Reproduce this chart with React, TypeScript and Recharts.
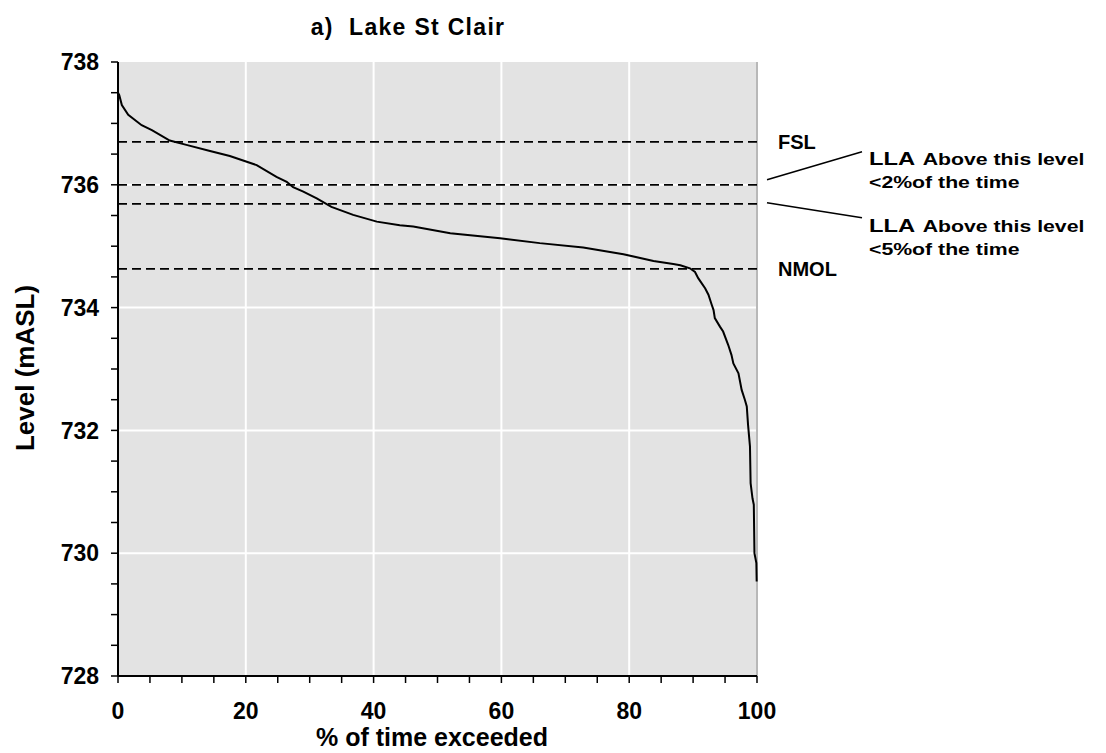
import React from 'react';
import { ComposedChart, Line, XAxis, YAxis, CartesianGrid, ReferenceLine } from 'recharts';

const pctExceeded = [0, 0.2, 0.6, 1.6, 3.7, 5.3, 8.1, 10.7, 14.4, 17.5, 21.7, 24.8, 26.4, 27.4, 29.0, 31.1, 33.4, 36.8, 40.5, 44.1, 46.2, 52.0, 59.8, 66.0, 72.8, 79.1, 83.8, 86.9, 88.0, 89.5, 90.3, 90.8, 91.9, 92.4, 92.9, 93.2, 93.4, 94.2, 94.7, 95.5, 96.0, 96.3, 97.1, 97.3, 97.6, 98.1, 98.4, 98.6, 98.9, 99.0, 99.3, 99.5, 99.6, 99.9, 99.95];
const levelValues = [737.5, 737.46, 737.3, 737.14, 736.97, 736.89, 736.72, 736.65, 736.55, 736.47, 736.32, 736.13, 736.05, 735.96, 735.89, 735.78, 735.64, 735.51, 735.4, 735.34, 735.32, 735.21, 735.13, 735.05, 734.98, 734.87, 734.76, 734.71, 734.69, 734.64, 734.58, 734.48, 734.31, 734.21, 734.05, 733.96, 733.83, 733.69, 733.61, 733.39, 733.23, 733.09, 732.93, 732.82, 732.66, 732.5, 732.39, 732.09, 731.74, 731.14, 730.89, 730.79, 730.0, 729.84, 729.54];

const xTicks = [0, 5, 10, 15, 20, 25, 30, 35, 40, 45, 50, 55, 60, 65, 70, 75, 80, 85, 90, 95, 100];
const yTicks = [728, 728.5, 729, 729.5, 730, 730.5, 731, 731.5, 732, 732.5, 733, 733.5, 734, 734.5, 735, 735.5, 736, 736.5, 737, 737.5, 738];
const xGrid = [20, 40, 60, 80];
const yGrid = [730, 732, 734, 736];

const levelNames = ['FSL', 'LLA2', 'LLA5', 'NMOL'];
const levelMarks = [736.7, 736.0, 735.69, 734.63];
const llaLines = ['<2%of the time', '<5%of the time'];

const data = pctExceeded.map((p, i) => ({ p, level: levelValues[i] }));

const FONT = '"Liberation Sans", Arial, Helvetica, sans-serif';

function makeLabel(name: string) {
  return (props: any) => {
    const vb = props.viewBox || {};
    const xe = vb.x + vb.width;
    const y = vb.y;
    if (name === 'FSL' || name === 'NMOL') {
      return (
        <text x={xe + 21} y={y + 7} fontFamily={FONT} fontWeight="bold" fontSize={20} fill="#000">
          {name}
        </text>
      );
    }
    const is2 = name === 'LLA2';
    const sx = xe + 10;
    const sy = is2 ? y - 5 : y - 1;
    const ex = 862;
    const ey = is2 ? y - 33 : y + 14;
    const ty = is2 ? y - 20 : y + 28;
    return (
      <g>
        <line x1={sx} y1={sy} x2={ex} y2={ey} stroke="#000" strokeWidth={1.5} />
        <g transform={`translate(${ex + 7} ${ty}) scale(1.25 1)`}>
          <text x={0} y={0} fontFamily={FONT} fontWeight="bold" fill="#000">
            <tspan fontSize={19}>LLA</tspan>
            <tspan fontSize={17} dx={6}>Above this level</tspan>
          </text>
          <text x={0} y={23} fontFamily={FONT} fontWeight="bold" fontSize={17} fill="#000">
            {is2 ? llaLines[0] : llaLines[1]}
          </text>
        </g>
      </g>
    );
  };
}

export default function App() {
  const tickStyle = { fill: '#000', fontSize: 23, fontWeight: 'bold', fontFamily: FONT };
  return (
    <div style={{ position: 'absolute', left: 0, top: 0, width: 1106, height: 753, background: '#fff' }}>
      <ComposedChart
        width={1106}
        height={753}
        data={data}
        margin={{ top: 62, right: 349, bottom: 37, left: 58 }}
      >
        <CartesianGrid horizontal={false} vertical={false} fill="#e3e3e3" />
        {xGrid.map((v) => (
          <ReferenceLine key={'gx' + v} x={v} stroke="#fff" strokeWidth={2} />
        ))}
        {yGrid.map((v) => (
          <ReferenceLine key={'gy' + v} y={v} stroke="#fff" strokeWidth={2} />
        ))}
        <ReferenceLine x={100} stroke="#b8b8b8" strokeWidth={2} />
        <XAxis
          dataKey="p"
          type="number"
          domain={[0, 100]}
          ticks={xTicks}
          interval={0}
          tickFormatter={(v: number) => (v % 20 === 0 ? String(v) : '')}
          tick={tickStyle}
          tickSize={7}
          tickMargin={20}
          height={40}
          axisLine={{ stroke: '#000', strokeWidth: 2 }}
          tickLine={{ stroke: '#000', strokeWidth: 1.5 }}
        />
        <YAxis
          type="number"
          domain={[728, 738]}
          ticks={yTicks}
          interval={0}
          tickFormatter={(v: number) => (v % 2 === 0 ? String(v) : '')}
          tick={tickStyle}
          tickSize={7}
          tickMargin={12}
          width={60}
          axisLine={{ stroke: '#000', strokeWidth: 2 }}
          tickLine={{ stroke: '#000', strokeWidth: 1.5 }}
        />
        {levelMarks.map((v, i) => (
          <ReferenceLine
            key={'lv' + i}
            y={v}
            stroke="#000"
            strokeWidth={1.7}
            strokeDasharray="9 5"
            label={makeLabel(levelNames[i])}
          />
        ))}
        <Line
          type="linear"
          dataKey="level"
          stroke="#000"
          strokeWidth={2}
          dot={false}
          isAnimationActive={false}
        />
      </ComposedChart>
      <svg width={1106} height={753} style={{ position: 'absolute', left: 0, top: 0, pointerEvents: 'none' }}>
        <text x={408} y={35} textAnchor="middle" fontFamily={FONT} fontWeight="bold" fontSize={23} fill="#000" style={{ whiteSpace: 'pre' }} letterSpacing={1.3}>
          {'a)  Lake St Clair'}
        </text>
        <text x={432} y={746} textAnchor="middle" fontFamily={FONT} fontWeight="bold" fontSize={25} fill="#000">
          % of time exceeded
        </text>
        <text x={34} y={368} textAnchor="middle" transform="rotate(-90 34 368)" fontFamily={FONT} fontWeight="bold" fontSize={26} fill="#000">
          Level (mASL)
        </text>
      </svg>
    </div>
  );
}
